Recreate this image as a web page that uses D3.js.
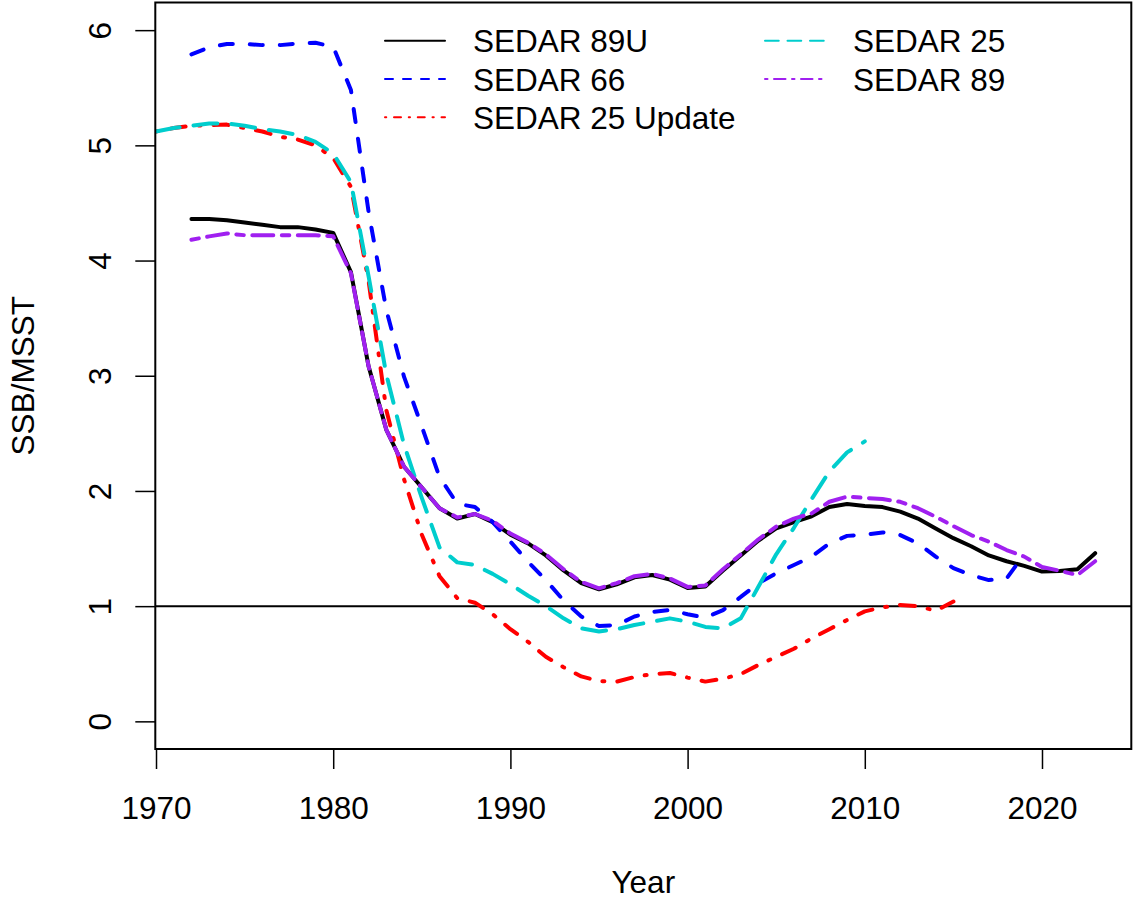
<!DOCTYPE html>
<html>
<head>
<meta charset="utf-8">
<script src="https://cdn.jsdelivr.net/npm/d3@7"></script>
<style>
  html, body { margin: 0; padding: 0; background: #fff; }
  svg { display: block; font-family: "Liberation Sans", Arial, sans-serif; }
</style>
</head>
<body>
<svg id="chart" width="1133" height="899"></svg>
<script>
// ---- data ----
const yearsA = d3.range(1972, 2024);              // SEDAR 89U & SEDAR 89: 1972-2023
const sedar89U = [4.36,4.36,4.35,4.33,4.31,4.29,4.29,4.27,4.24,3.90,3.08,2.53,2.21,2.03,1.85,1.76,1.80,1.73,1.62,1.545,1.44,1.31,1.20,1.146,1.19,1.25,1.27,1.23,1.157,1.17,1.31,1.44,1.57,1.675,1.73,1.78,1.86,1.886,1.87,1.86,1.82,1.76,1.675,1.59,1.52,1.44,1.39,1.35,1.30,1.305,1.32,1.46];
const sedar89  = [4.18,4.21,4.235,4.22,4.22,4.22,4.22,4.22,4.21,3.89,3.08,2.53,2.21,2.03,1.85,1.77,1.80,1.74,1.63,1.55,1.45,1.32,1.21,1.155,1.20,1.26,1.28,1.24,1.167,1.18,1.32,1.45,1.58,1.69,1.76,1.805,1.906,1.95,1.94,1.93,1.906,1.85,1.776,1.695,1.617,1.56,1.487,1.43,1.34,1.307,1.27,1.39];
const yearsB = d3.range(1972, 2020);              // SEDAR 66: 1972-2019
const sedar66  = [5.79,5.85,5.88,5.88,5.87,5.87,5.885,5.89,5.856,5.48,4.42,3.57,2.99,2.56,2.12,1.89,1.86,1.73,1.56,1.385,1.226,1.05,0.91,0.827,0.836,0.91,0.95,0.966,0.93,0.90,0.966,1.08,1.20,1.285,1.357,1.43,1.545,1.61,1.62,1.64,1.617,1.545,1.43,1.33,1.27,1.226,1.24,1.45];
const yearsC = d3.range(1970, 2016);              // SEDAR 25 Update: 1970-2015
const sedar25U = [5.12,5.15,5.17,5.175,5.18,5.15,5.12,5.075,5.05,5.00,4.89,4.64,3.82,2.70,2.10,1.62,1.26,1.07,1.03,0.93,0.80,0.69,0.56,0.47,0.39,0.35,0.345,0.385,0.41,0.42,0.38,0.345,0.37,0.41,0.49,0.56,0.63,0.72,0.80,0.88,0.955,0.99,1.01,1.00,0.96,1.04];
const yearsD = d3.range(1970, 2011);              // SEDAR 25: 1970-2010
const sedar25  = [5.12,5.15,5.17,5.19,5.19,5.17,5.14,5.12,5.09,5.03,4.93,4.68,3.86,3.01,2.40,1.94,1.51,1.38,1.357,1.28,1.19,1.09,1.00,0.894,0.807,0.78,0.80,0.836,0.865,0.894,0.865,0.82,0.807,0.894,1.17,1.45,1.68,1.93,2.17,2.335,2.43];

const xTicks = [1970, 1980, 1990, 2000, 2010, 2020];
const yTicks = [0, 1, 2, 3, 4, 5, 6];
const legendLabels = ["SEDAR 89U", "SEDAR 66", "SEDAR 25 Update", "SEDAR 25", "SEDAR 89"];

// ---- series styles ----
const series = [
  {name: "SEDAR 89U", years: yearsA, values: sedar89U, color: "#000000", dash: null, ldash: null},
  {name: "SEDAR 66", years: yearsB, values: sedar66, color: "#0000FF", dash: "13,17", ldash: "8,10"},
  {name: "SEDAR 25 Update", years: yearsC, values: sedar25U, color: "#FF0000", dash: "2,13,15,13", ldash: "1.25,7.75,7,7.75"},
  {name: "SEDAR 25", years: yearsD, values: sedar25, color: "#00CDCD", dash: "24,14", ldash: "13.75,8.75"},
  {name: "SEDAR 89", years: yearsA, values: sedar89, color: "#A020F0", dash: "7.5,8.5,21,8.5", ldash: "2.5,6.5,11.5,6.5"}
];

// ---- layout ----
const L = 155.3, R = 1131.3, T = 2.5, B = 749;
const x = d3.scaleLinear().domain([1969.96, 2025.04]).range([L, R]);
const y = d3.scaleLinear().domain([-0.24, 6.24]).range([B, T]);
const FS = 31.5;

const svg = d3.select("#chart");

// clip
svg.append("defs").append("clipPath").attr("id", "plotclip")
  .append("rect").attr("x", L).attr("y", T).attr("width", R - L).attr("height", B - T);

// reference line at 1
svg.append("line")
  .attr("x1", L).attr("x2", R).attr("y1", y(1)).attr("y2", y(1))
  .attr("stroke", "#000").attr("stroke-width", 2);

// series lines
const g = svg.append("g").attr("clip-path", "url(#plotclip)");
const line = d3.line().x(d => x(d[0])).y(d => y(d[1]));
series.forEach(s => {
  const pts = s.years.map((yr, i) => [yr, s.values[i]]);
  g.append("path")
    .attr("d", line(pts))
    .attr("fill", "none")
    .attr("stroke", s.color)
    .attr("stroke-width", 4)
    .attr("stroke-linecap", "round")
    .attr("stroke-linejoin", "round")
    .attr("stroke-dasharray", s.dash);
});

// box
svg.append("rect")
  .attr("x", L).attr("y", T).attr("width", R - L).attr("height", B - T)
  .attr("fill", "none").attr("stroke", "#000").attr("stroke-width", 2);

// x axis
const xAxis = d3.axisBottom(x).tickValues(xTicks).tickSize(20).tickPadding(0).tickFormat(d3.format("d"));
const gx = svg.append("g").attr("transform", `translate(0,${B})`).call(xAxis);
gx.select(".domain").remove();
gx.selectAll(".tick line").attr("stroke", "#000").attr("stroke-width", 1.5);
gx.selectAll(".tick text")
  .attr("y", 70).attr("dy", null)
  .attr("font-size", FS).attr("fill", "#000")
  .attr("font-family", '"Liberation Sans", Arial, sans-serif');

// y axis
const yAxis = d3.axisLeft(y).tickValues(yTicks).tickSize(20).tickPadding(0).tickFormat(d3.format("d"));
const gy = svg.append("g").attr("transform", `translate(${L},0)`).call(yAxis);
gy.select(".domain").remove();
gy.selectAll(".tick line").attr("stroke", "#000").attr("stroke-width", 1.5);
gy.selectAll(".tick text")
  .attr("x", null).attr("dy", null)
  .attr("transform", `translate(${111 - L},0) rotate(-90)`)
  .attr("text-anchor", "middle")
  .attr("font-size", FS).attr("fill", "#000")
  .attr("font-family", '"Liberation Sans", Arial, sans-serif');

// axis titles
svg.append("text")
  .attr("x", (L + R) / 2).attr("y", 893)
  .attr("text-anchor", "middle").attr("font-size", FS).text("Year");
svg.append("text")
  .attr("transform", `translate(34,${(T + B) / 2}) rotate(-90)`)
  .attr("text-anchor", "middle").attr("font-size", FS).text("SSB/MSST");

// legend (2 columns, filled column-wise)
const legCols = [{lx: 385, tx: 473}, {lx: 765, tx: 853}];
const rowY = [40.7, 79, 117.3];
legendLabels.forEach((lab, i) => {
  const s = series.find(d => d.name === lab);
  const col = i < 3 ? 0 : 1;
  const row = i < 3 ? i : i - 3;
  const c = legCols[col];
  const ly = rowY[row];
  svg.append("line")
    .attr("x1", c.lx).attr("x2", c.lx + 60).attr("y1", ly).attr("y2", ly)
    .attr("stroke", s.color).attr("stroke-width", 2)
    .attr("stroke-linecap", "round")
    .attr("stroke-dasharray", s.ldash);
  svg.append("text")
    .attr("x", c.tx).attr("y", ly + 11.5)
    .attr("font-size", FS).attr("fill", "#000").text(lab);
});
</script>
</body>
</html>
